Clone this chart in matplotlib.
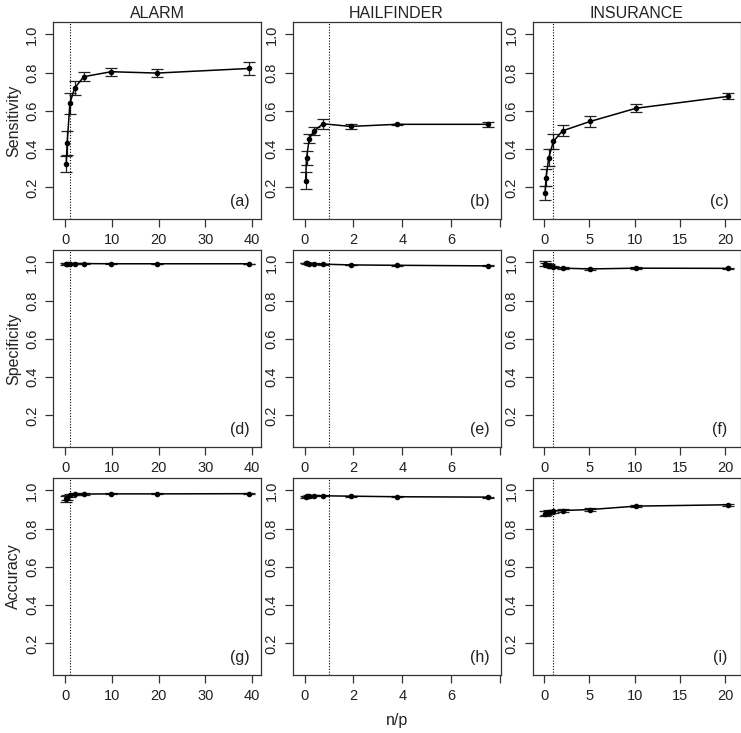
import matplotlib
matplotlib.use("Agg")
import matplotlib.pyplot as plt

plt.rcParams['font.family'] = ['Liberation Sans', 'DejaVu Sans']

# n/p values (same sample sizes, different number of parameters per network)
x_alarm = [0.196, 0.393, 0.982, 1.965, 3.93, 9.82, 19.65, 39.3]
x_hail = [0.038, 0.075, 0.188, 0.377, 0.753, 1.88, 3.77, 7.53]
x_ins = [0.102, 0.203, 0.508, 1.016, 2.03, 5.08, 10.16, 20.33]

# ALARM
sens_alarm = [0.325, 0.433, 0.640, 0.718, 0.779, 0.805, 0.798, 0.822]
sens_alarm_err = [0.042, 0.062, 0.055, 0.037, 0.023, 0.022, 0.023, 0.033]
spec_alarm = [0.993, 0.994, 0.994, 0.994, 0.994, 0.993, 0.993, 0.993]
spec_alarm_err = [0.004, 0.003, 0.003, 0.002, 0.002, 0.002, 0.001, 0.001]
acc_alarm = [0.955, 0.963, 0.974, 0.979, 0.981, 0.982, 0.982, 0.983]
acc_alarm_err = [0.015, 0.012, 0.008, 0.005, 0.004, 0.003, 0.003, 0.003]

# HAILFINDER
sens_hail = [0.235, 0.354, 0.455, 0.495, 0.533, 0.519, 0.530, 0.530]
sens_hail_err = [0.044, 0.038, 0.025, 0.020, 0.025, 0.013, 0.004, 0.012]
spec_hail = [0.997, 0.996, 0.994, 0.993, 0.991, 0.987, 0.985, 0.982]
spec_hail_err = [0.002, 0.002, 0.002, 0.002, 0.002, 0.002, 0.002, 0.002]
acc_hail = [0.966, 0.969, 0.972, 0.973, 0.972, 0.970, 0.967, 0.965]
acc_hail_err = [0.005, 0.004, 0.004, 0.004, 0.003, 0.003, 0.003, 0.003]

# INSURANCE
sens_ins = [0.172, 0.250, 0.355, 0.441, 0.496, 0.545, 0.614, 0.676]
sens_ins_err = [0.038, 0.045, 0.045, 0.038, 0.028, 0.030, 0.020, 0.016]
spec_ins = [0.993, 0.989, 0.982, 0.975, 0.970, 0.966, 0.970, 0.969]
spec_ins_err = [0.012, 0.010, 0.008, 0.006, 0.005, 0.004, 0.004, 0.004]
acc_ins = [0.878, 0.882, 0.887, 0.892, 0.895, 0.900, 0.918, 0.925]
acc_ins_err = [0.012, 0.010, 0.010, 0.008, 0.007, 0.006, 0.005, 0.005]

networks = ['ALARM', 'HAILFINDER', 'INSURANCE']
measures = ['Sensitivity', 'Specificity', 'Accuracy']
xs = [x_alarm, x_hail, x_ins]
ys = [[sens_alarm, sens_hail, sens_ins],
      [spec_alarm, spec_hail, spec_ins],
      [acc_alarm, acc_hail, acc_ins]]
errs = [[sens_alarm_err, sens_hail_err, sens_ins_err],
        [spec_alarm_err, spec_hail_err, spec_ins_err],
        [acc_alarm_err, acc_hail_err, acc_ins_err]]
panel_labels = ['(a)', '(b)', '(c)', '(d)', '(e)', '(f)', '(g)', '(h)', '(i)']

xlims = [(-2.64, 41.9), (-0.5, 8.03), (-1.29, 21.7)]
xticks = [[0, 10, 20, 30, 40], [0, 2, 4, 6, 8], [0, 5, 10, 15, 20]]
xticklabels = [['0', '10', '20', '30', '40'], ['0', '2', '4', '6', ''],
               ['0', '5', '10', '15', '20']]

W, H = 741, 733
fig = plt.figure(figsize=(W / 100, H / 100), dpi=100)

lefts = [53, 292.5, 532.5]
tops = [22, 250, 478]
aw, ah = 208, 197
frame = '#333333'

for r in range(3):
    for c in range(3):
        ax = fig.add_axes([lefts[c] / W, 1 - (tops[r] + ah) / H, aw / W, ah / H])
        ax.errorbar(xs[c], ys[r][c], yerr=errs[r][c], color='black', lw=1.1,
                    marker='o', ms=3, capsize=4.5, elinewidth=0.9,
                    capthick=0.9, ecolor='#222222')
        ax.axvline(1, color='black', ls=(0, (1, 1.5)), lw=0.8)
        ax.set_xlim(xlims[c])
        ax.set_ylim(0.035, 1.065)
        ax.set_xticks(xticks[c])
        ax.set_xticklabels(xticklabels[c])
        ax.set_yticks([0.2, 0.4, 0.6, 0.8, 1.0])
        ax.set_yticklabels(['0.2', '0.4', '0.6', '0.8', '1.0'],
                           rotation=90, va='center')
        ax.tick_params(direction='out', length=6, width=0.9, color=frame,
                       labelsize=10.5, labelcolor='#222222', pad=4)
        for s in ax.spines.values():
            s.set_color(frame)
            s.set_linewidth(0.9)
        ax.text(0.9, 0.09, panel_labels[r * 3 + c], transform=ax.transAxes,
                ha='center', va='center', fontsize=11.5, color='#222222')
        if r == 0:
            ax.set_title(networks[c], fontsize=11.5, pad=3, color='#222222')
        if c == 0:
            ax.set_ylabel(measures[r], fontsize=11.5, labelpad=3, color='#222222')

fig.text(397 / W, 1 - 721 / H, 'n/p', ha='center', va='center',
         fontsize=11.5, color='#222222')

fig.savefig('out.png', dpi=100)
